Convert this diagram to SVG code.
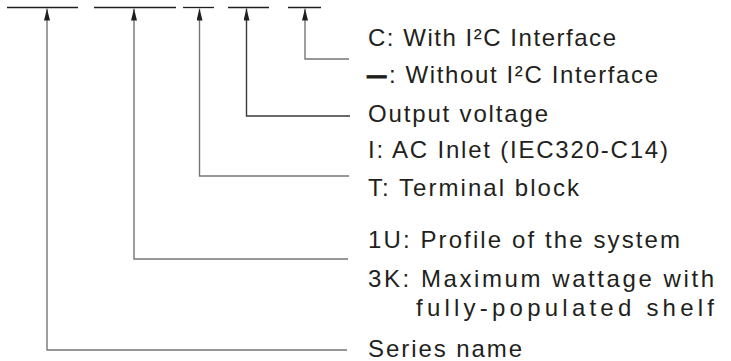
<svg xmlns="http://www.w3.org/2000/svg" width="731" height="361" viewBox="0 0 731 361">
<style>
.bar{stroke:#231f20;stroke-width:1.3;fill:none}
.conn{stroke:#767676;stroke-width:1.4;fill:none}
.dark{stroke:#3a3a3a}
.lbl{font-family:"Liberation Sans",Arial,sans-serif;font-size:24px;fill:#231f20}
</style>
<defs>
<marker id="arr" viewBox="0 0 12 6" refX="12" refY="3" markerWidth="12" markerHeight="6" markerUnits="userSpaceOnUse" orient="auto">
<path d="M0,0 L12,3 L0,6 Z" fill="#231f20"/>
</marker>
</defs>
<rect width="731" height="361" fill="#fff"/>
<g id="code-bars">
<line class="bar" x1="7" y1="7.5" x2="78" y2="7.5"/>
<line class="bar" x1="94" y1="7.5" x2="176" y2="7.5"/>
<line class="bar" x1="183" y1="7.5" x2="214" y2="7.5"/>
<line class="bar" x1="228" y1="7.5" x2="269" y2="7.5"/>
<line class="bar" x1="288" y1="7.5" x2="321" y2="7.5"/>
</g>
<g id="connectors">
<polyline class="conn" points="349,59 305,59 305,8.5" marker-end="url(#arr)"/>
<polyline class="conn dark" points="350,116 246.5,116 246.5,8.5" marker-end="url(#arr)"/>
<polyline class="conn" points="349,176 199.5,176 199.5,8.5" marker-end="url(#arr)"/>
<polyline class="conn" points="348,259 134,259 134,8.5" marker-end="url(#arr)"/>
<polyline class="conn" points="347,350 47,350 47,8.5" marker-end="url(#arr)"/>
</g>
<g id="interface">
<text class="lbl" x="368" y="46" textLength="248" lengthAdjust="spacing">C: With I²C Interface</text>
<text class="lbl" transform="translate(366,83) scale(1.6,1)" font-size="25" font-weight="bold" stroke="#231f20" stroke-width="0.8">–</text>
<text class="lbl" x="389" y="83" textLength="269" lengthAdjust="spacing">: Without I²C Interface</text>
</g>
<g id="output-voltage">
<text class="lbl" x="368" y="122" textLength="180" lengthAdjust="spacing">Output voltage</text>
</g>
<g id="input-type">
<text class="lbl" x="368" y="158" textLength="300" lengthAdjust="spacing">I: AC Inlet (IEC320-C14)</text>
<text class="lbl" x="368" y="196" textLength="211" lengthAdjust="spacing">T: Terminal block</text>
</g>
<g id="profile-wattage">
<text class="lbl" x="368" y="248" textLength="312" lengthAdjust="spacing">1U: Profile of the system</text>
<text class="lbl" x="368" y="287" textLength="346" lengthAdjust="spacing">3K: Maximum wattage with</text>
<text class="lbl" x="416" y="316" textLength="298" lengthAdjust="spacing">fully-populated shelf</text>
</g>
<g id="series">
<text class="lbl" x="368" y="357" textLength="154" lengthAdjust="spacing">Series name</text>
</g>
</svg>
